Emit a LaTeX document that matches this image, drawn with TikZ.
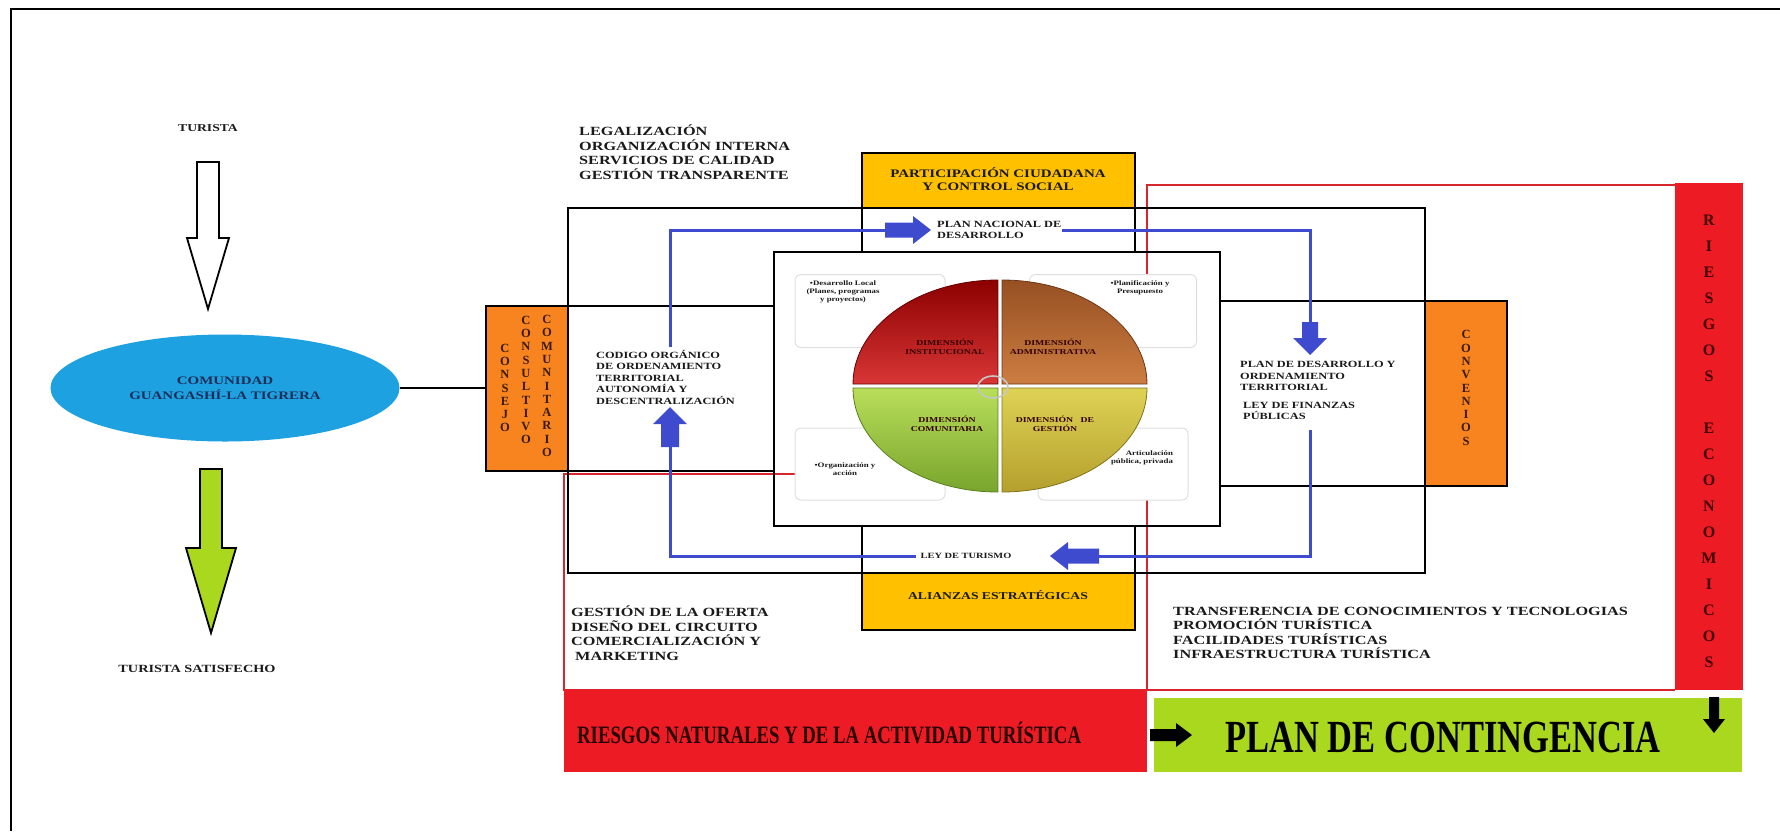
\documentclass[tikz,border=0pt]{standalone}
\usepackage{fontspec}
\setmainfont{Liberation Serif}
\newfontfamily\wf{Liberation Serif Bold}[FakeStretch=1.3]
\newfontfamily\cf{Liberation Serif Bold}[FakeStretch=0.75]
\newfontfamily\bff{Liberation Serif Bold}
\usetikzlibrary{shapes.geometric}
\definecolor{cred}{HTML}{ED1C24}
\definecolor{lred}{HTML}{D9262E}
\definecolor{cyel}{HTML}{FFC000}
\definecolor{corg}{HTML}{F7841F}
\definecolor{cgrn}{HTML}{A9D81E}
\definecolor{cblu}{HTML}{3F4BCF}
\definecolor{cell}{HTML}{1DA1E0}
\definecolor{tx}{HTML}{1A1A1A}
\definecolor{navy}{HTML}{1F2F5A}
\definecolor{brn}{HTML}{3B1A00}
\newcommand\blkarrow[8]{\path[#8, shift={(#1,#2)}, rotate=#3] (0,-#6) -- ({#4-#5},-#6) -- ({#4-#5},-#7) -- (#4,0) -- ({#4-#5},#7) -- ({#4-#5},#6) -- (0,#6) -- cycle;}
\begin{document}
\begin{tikzpicture}[x=1pt,y=-1pt,
  bx/.style={draw=black, line width=2.6pt, inner sep=0pt, outer sep=0pt},
  fb/.style={inner sep=0pt, outer sep=0pt},
  t/.style={font=\wf\fontsize{12.5}{14.5}\selectfont, text=tx, align=left, inner sep=0pt, anchor=west},
  ts/.style={font=\wf\fontsize{9.5}{11.5}\selectfont, text=tx, align=left, inner sep=0pt, anchor=west},
  tc/.style={font=\wf\fontsize{11.5}{13.5}\selectfont, text=tx, align=center, inner sep=0pt},
  vl/.style={font=\bff\fontsize{12.5}{13.3}\selectfont, text=brn, align=center, inner sep=0pt},
  pt/.style={font=\wf\fontsize{7.5}{8.5}\selectfont, text=black!80!red, align=center, inner sep=0pt},
  rb/.style={draw=gray!25, fill=white, line width=1pt, rounded corners=6pt, inner sep=0pt},
  rt/.style={font=\wf\fontsize{6.8}{8.2}\selectfont, text=tx, align=center, inner sep=0pt},
  bl/.style={draw=cblu, line width=3pt},
  rl/.style={draw=lred, line width=1.4pt}]
\useasboundingbox (0,0) rectangle (1780,831);
% outer frame
\draw[line width=2.2pt] (11,831) -- (11,9) -- (1780,9);

% left column
\node[font=\wf\fontsize{10.5}{12}\selectfont, text=tx, inner sep=0pt] (turista) at (208,128) {TURISTA};
\blkarrow{208}{162}{-90}{147}{71}{11}{21}{fill=white, draw=black, line width=1.8pt}
\node[ellipse, fill=cell, minimum width=349pt, minimum height=107pt, inner sep=0pt,
  font=\wf\fontsize{11.5}{15.5}\selectfont, text=navy, align=center] (com) at (225,388) {COMUNIDAD\\GUANGASHÍ-LA TIGRERA};
\blkarrow{211}{469}{-90}{164}{85}{11}{25}{fill=cgrn, draw=black, line width=1.8pt}
\node[font=\wf\fontsize{11}{12}\selectfont, text=tx, inner sep=0pt] (satisf) at (197,669) {TURISTA SATISFECHO};

% fills
\fill[cyel] (862,153) rectangle (1135,208);
\fill[cyel] (862,573) rectangle (1135,630);
\node[fb, fill=corg, minimum width=82pt, minimum height=165pt] (consejo) at (527,388.5) {};
\node[fb, fill=corg, minimum width=82pt, minimum height=185pt] (conv) at (1466,393.5) {};

% red frame
\draw[rl] (795,474) -- (564,474) -- (564,690) -- (1675,690);
\draw[rl] (1147,277) -- (1147,185) -- (1675,185);
\draw[rl] (1147,500) -- (1147,690);

% bottom boxes
\node[fb, fill=cred, minimum width=583pt, minimum height=82pt] (rnat) at (855.5,731) {};
\node[inner sep=0pt, anchor=west, font=\cf\fontsize{25}{25}\selectfont, text=black!85!red] (rnatt) at (577,733) {RIESGOS NATURALES Y DE LA ACTIVIDAD TURÍSTICA};
\node[fb, fill=cgrn, minimum width=588pt, minimum height=74pt] (plan) at (1448,735) {};
\node[inner sep=0pt, font=\cf\fontsize{46}{46}\selectfont, text=black] (plant) at (1443,737) {PLAN DE CONTINGENCIA};
\node[fb, fill=cred, minimum width=68pt, minimum height=507pt] (recon) at (1709,436.5) {};
\node[vl, font=\bff\fontsize{16}{26}\selectfont, text=black!75!red] (recont) at (1709,441) {R\\I\\E\\S\\G\\O\\S\\\mbox{}\\E\\C\\O\\N\\O\\M\\I\\C\\O\\S};
\blkarrow{1150}{735}{0}{42}{16}{6}{12}{fill=black}
\blkarrow{1714}{697}{-90}{36}{14}{5}{11}{fill=black}

% black outlined boxes
\node[bx, minimum width=857pt, minimum height=365pt] (big) at (996.5,390.5) {};
\node[bx, minimum width=288pt, minimum height=165pt] (lbox) at (630,388.5) {};
\node[bx, minimum width=287pt, minimum height=185pt] (rbox) at (1363.5,393.5) {};
\node[bx, minimum width=273pt, minimum height=99pt] (part) at (998.5,202.5) {};
\node[bx, minimum width=273pt, minimum height=104pt] (alz) at (998.5,578) {};
\node[bx, minimum width=446pt, minimum height=274pt] (central) at (997,389) {};

\draw[line width=1.8pt] (com.east) -- (consejo.west |- com.east);

% vertical texts
\node[vl] (v1) at (505,388) {C\\O\\N\\S\\E\\J\\O};
\node[vl] (v2) at (526,380) {C\\O\\N\\S\\U\\L\\T\\I\\V\\O};
\node[vl] (v3) at (547,386) {C\\O\\M\\U\\N\\I\\T\\A\\R\\I\\O};
\node[vl] (v4) at (1466,388) {C\\O\\N\\V\\E\\N\\I\\O\\S};

% texts
\node[t] (leg) at (579,152) {LEGALIZACIÓN\\ORGANIZACIÓN INTERNA\\SERVICIOS DE CALIDAD\\GESTIÓN TRANSPARENTE};
\node[t] (gest) at (571,633) {GESTIÓN DE LA OFERTA\\DISEÑO DEL CIRCUITO\\COMERCIALIZACIÓN Y\\\hspace{4pt}MARKETING};
\node[t] (trans) at (1173,633) {TRANSFERENCIA DE CONOCIMIENTOS Y TECNOLOGIAS\\PROMOCIÓN TURÍSTICA\\FACILIDADES TURÍSTICAS\\INFRAESTRUCTURA TURÍSTICA};
\node[tc] (partt) at (998,179) {PARTICIPACIÓN CIUDADANA\\Y CONTROL SOCIAL};
\node[tc, font=\wf\fontsize{10.5}{12}\selectfont] (alzt) at (998,595) {ALIANZAS ESTRATÉGICAS};
\node[ts] (codigo) at (596,377) {CODIGO ORGÁNICO\\DE ORDENAMIENTO\\TERRITORIAL\\AUTONOMÍA Y\\DESCENTRALIZACIÓN};
\node[ts] (plandes) at (1240,376) {PLAN DE DESARROLLO Y\\ORDENAMIENTO\\TERRITORIAL};
\node[ts] (leyfin) at (1243,411) {LEY DE FINANZAS\\PÚBLICAS};
\node[ts] (plannac) at (937,230) {PLAN NACIONAL DE\\DESARROLLO};
\node[tc, font=\wf\fontsize{8}{9}\selectfont] (leytur) at (966,556) {LEY DE TURISMO};

% blue connectors
\coordinate (c1) at (670,347);
\coordinate (aR) at (885,230);
\draw[bl] (c1) |- (aR);
\blkarrow{885}{230}{0}{46}{18}{7.5}{14}{fill=cblu}
\coordinate (p1) at (1062,230);
\coordinate (aD) at (1310,322);
\draw[bl] (p1) -| (aD);
\blkarrow{1310}{322}{-90}{33}{17}{8}{17}{fill=cblu}
\coordinate (f1) at (1310,430);
\coordinate (aL) at (1099,556);
\draw[bl] (f1) |- (aL);
\blkarrow{1099}{556}{180}{49}{18}{7.5}{14}{fill=cblu}
\coordinate (t1) at (916,556);
\coordinate (aU) at (670,447);
\draw[bl] (t1) -| (aU);
\blkarrow{670}{447}{90}{40}{17}{9}{17}{fill=cblu}

% rounded boxes
\node[rb, minimum width=150pt, minimum height=73pt] (b1) at (870,311) {};
\node[rb, minimum width=167pt, minimum height=73pt] (b2) at (1113,311) {};
\node[rb, minimum width=150pt, minimum height=72pt] (b3) at (870,464) {};
\node[rb, minimum width=150pt, minimum height=72pt] (b4) at (1113,464) {};
\node[rt] (b1t) at (843,292) {•Desarrollo Local\\(Planes, programas\\y proyectos)};
\node[rt] (b2t) at (1140,288) {•Planificación y\\Presupuesto};
\node[rt] (b3t) at (845,469) {•Organización y\\acción};
\node[rt, align=right] (b4t) at (1142,458) {Articulación\\pública, privada};

% pie
\shade[top color=red!55!black, bottom color=red!75!white!85!black, draw=red!40!black, line width=0.8pt]
  (998,384) -- (853,384) arc[start angle=180, end angle=270, x radius=145, y radius=104] -- cycle;
\shade[top color={rgb,255:red,150;green,80;blue,35}, bottom color={rgb,255:red,205;green,125;blue,65}, draw={rgb,255:red,110;green,55;blue,20}, line width=0.8pt]
  (1002,384) -- (1002,280) arc[start angle=270, end angle=360, x radius=145, y radius=104] -- cycle;
\shade[top color={rgb,255:red,185;green,222;blue,90}, bottom color={rgb,255:red,120;green,165;blue,45}, draw={rgb,255:red,90;green,125;blue,30}, line width=0.8pt]
  (998,388) -- (998,492) arc[start angle=90, end angle=180, x radius=145, y radius=104] -- cycle;
\shade[top color={rgb,255:red,222;green,210;blue,85}, bottom color={rgb,255:red,180;green,160;blue,45}, draw={rgb,255:red,130;green,115;blue,25}, line width=0.8pt]
  (1002,388) -- (1147,388) arc[start angle=0, end angle=90, x radius=145, y radius=104] -- cycle;
\draw[gray!45, line width=1.6pt] (993,387) ellipse [x radius=15, y radius=11];
\node[pt] (d1) at (945,347) {DIMENSIÓN\\INSTITUCIONAL};
\node[pt] (d2) at (1053,347) {DIMENSIÓN\\ADMINISTRATIVA};
\node[pt] (d3) at (947,424) {DIMENSIÓN\\COMUNITARIA};
\node[pt] (d4) at (1055,424) {DIMENSIÓN\quad DE\\GESTIÓN};
\end{tikzpicture}
\end{document}
